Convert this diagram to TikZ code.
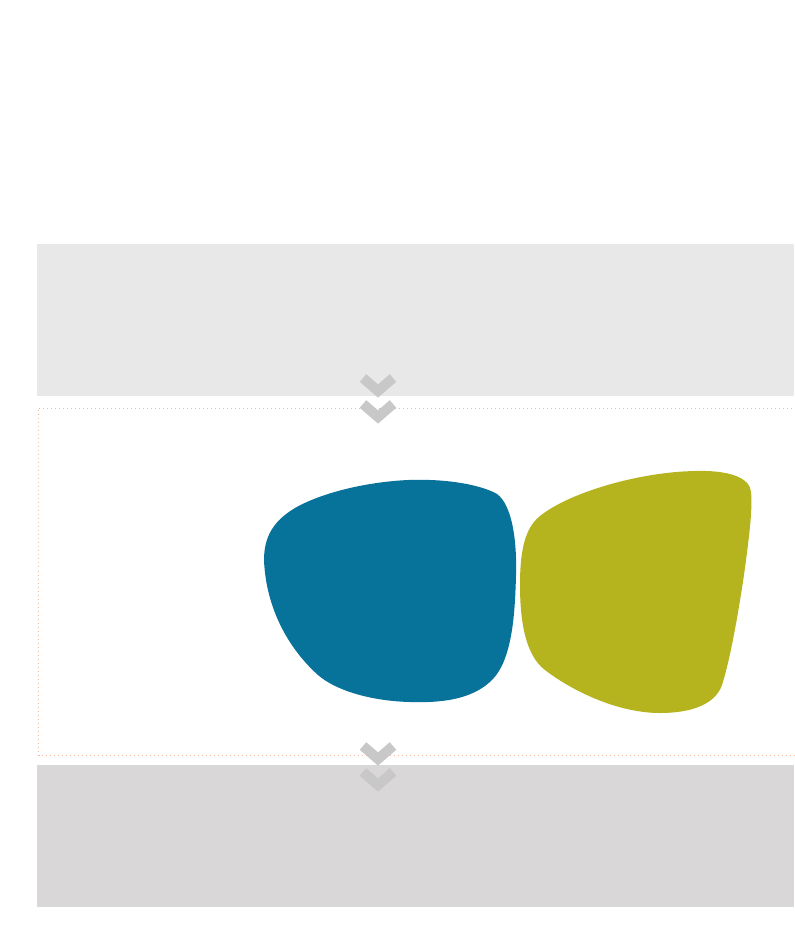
\documentclass[tikz,border=0pt]{standalone}
\definecolor{bandtop}{HTML}{E8E8E8}
\definecolor{bandbot}{HTML}{D9D7D8}
\definecolor{chev}{HTML}{C8C8C8}
\definecolor{lensblue}{HTML}{07729A}
\definecolor{lensolive}{HTML}{B5B31E}
\definecolor{dotorange}{HTML}{F2B898}
\tikzset{
  chevron/.style={draw=chev, line width=7.5pt, miter limit=10, line join=miter, line cap=butt},
  dotframe/.style={draw=dotorange, line width=0.6pt, dash pattern=on 0.6pt off 2.4pt}
}
\begin{document}
\begin{tikzpicture}[x=0.75pt,y=-0.75pt]
\useasboundingbox (0,0) rectangle (794,945);
\fill[white] (0,0) rectangle (794,945);
% bands
\fill[bandtop] (37,244) rectangle (794,396);
\fill[bandbot] (37,765) rectangle (794,907);
% dotted frame
\draw[dotframe] (800,408) -- (38.5,408) -- (38.5,755) -- (800,755);
% blue lens
\fill[lensblue] (264,560) .. controls (264,535) and (275,520) .. (295,508)
 .. controls (330,488) and (390,478) .. (430,480)
 .. controls (460,481) and (485,487) .. (497,494)
 .. controls (512,505) and (517,540) .. (516,575)
 .. controls (515,615) and (512,660) .. (492,680)
 .. controls (472,700) and (440,703) .. (410,702)
 .. controls (370,701) and (335,690) .. (318,675)
 .. controls (290,650) and (266,610) .. (264,560) -- cycle;
% olive lens
\fill[lensolive] (520,585) .. controls (520,550) and (525,528) .. (540,516)
 .. controls (570,492) and (640,472) .. (695,471)
 .. controls (730,470) and (750,478) .. (751,492)
 .. controls (753,510) and (748,545) .. (744,575)
 .. controls (738,615) and (730,660) .. (722,685)
 .. controls (715,705) and (690,713) .. (660,713)
 .. controls (620,713) and (575,693) .. (545,670)
 .. controls (525,655) and (520,620) .. (520,585) -- cycle;
% chevrons
\coordinate (c1) at (378,391);
\coordinate (c2) at (378,417);
\coordinate (c3) at (378,759);
\coordinate (c4) at (378,785);
\foreach \c in {c1,c2,c3,c4}{
  \draw[chevron] ([shift={(-15,-13)}]\c) -- (\c) -- ([shift={(15,-13)}]\c);
}
\end{tikzpicture}
\end{document}
